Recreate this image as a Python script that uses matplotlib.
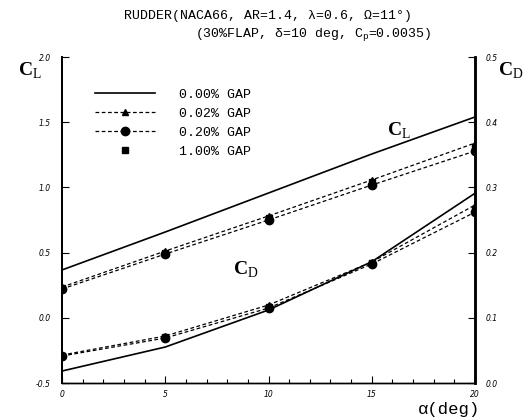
import matplotlib
matplotlib.use('Agg')
import matplotlib.pyplot as plt
from matplotlib.ticker import MultipleLocator

plt.rcParams['mathtext.fontset'] = 'custom'
plt.rcParams['mathtext.rm'] = 'Liberation Serif'
plt.rcParams['mathtext.bf'] = 'Liberation Serif:bold'

alpha = [0, 5, 10, 15, 20]

# lift coefficient
cl_gap000 = [0.367, 0.658, 0.957, 1.256, 1.54]
cl_gap002 = [0.236, 0.512, 0.781, 1.057, 1.34]
cl_gap020 = [0.221, 0.489, 0.750, 1.018, 1.279]
cl_gap100 = [0.23, 0.50, 0.765, 1.04, 1.31]

# drag coefficient
cd_gap000 = [0.0184, 0.0552, 0.112, 0.186, 0.291]
cd_gap002 = [0.0429, 0.0721, 0.1196, 0.1856, 0.273]
cd_gap020 = [0.0414, 0.069, 0.115, 0.1825, 0.262]
cd_gap100 = [0.042, 0.070, 0.117, 0.184, 0.267]

labels = ['0.00% GAP', '0.02% GAP', '0.20% GAP', '1.00% GAP']
cl_ticks = [-0.5, 0.0, 0.5, 1.0, 1.5, 2.0]
cd_ticks = [0.0, 0.1, 0.2, 0.3, 0.4, 0.5]

fig = plt.figure(figsize=(5.31, 4.17), dpi=100)
ax = fig.add_axes([0.1168, 0.0815, 0.7777, 0.7818])
ax2 = ax.twinx()

dash = (0, (3, 2))
ax.plot(alpha, cl_gap000, '-', color='black', lw=1.2, label=labels[0])
ax.plot(alpha, cl_gap002, linestyle=dash, color='black', lw=0.9,
        marker='^', ms=5, label=labels[1])
ax.plot(alpha, cl_gap020, linestyle=dash, color='black', lw=0.9,
        marker='o', ms=6, label=labels[2])
ax.plot(alpha, cl_gap100, linestyle='none', color='black',
        marker='s', ms=5, label=labels[3])

ax2.plot(alpha, cd_gap000, '-', color='black', lw=1.2)
ax2.plot(alpha, cd_gap002, linestyle=dash, color='black', lw=0.9, marker='^', ms=5)
ax2.plot(alpha, cd_gap020, linestyle=dash, color='black', lw=0.9, marker='o', ms=6)
ax2.plot(alpha, cd_gap100, linestyle='none', color='black', marker='s', ms=5)

ax.set_xlim(0, 20)
ax.set_ylim(-0.5, 2.0)
ax2.set_ylim(0.0, 0.5)
ax.set_xticks(alpha)
ax.xaxis.set_minor_locator(MultipleLocator(1))
ax.set_yticks(cl_ticks)
ax2.set_yticks(cd_ticks)

tick_font = dict(family='DejaVu Sans', style='italic', size=5.5)
ax.set_xticklabels([str(a) for a in alpha], **tick_font)
ax.set_yticklabels([f'{v:.1f}' for v in cl_ticks], **tick_font)
ax2.set_yticklabels([f'{v:.1f}' for v in cd_ticks], **tick_font)

for a in (ax, ax2):
    a.tick_params(direction='in', length=5, width=0.8, pad=8)
    a.tick_params(which='minor', direction='in', length=3, width=0.8)
    a.spines['top'].set_visible(False)
    a.spines['left'].set_linewidth(1.4)
    a.spines['right'].set_linewidth(1.8)
    a.spines['bottom'].set_linewidth(1.0)
ax.tick_params(axis='x', pad=5)

leg = ax.legend(loc='upper left', bbox_to_anchor=(0.05, 0.94), frameon=False,
                handlelength=4.6, handletextpad=1.8, labelspacing=0.52,
                prop={'family': 'Liberation Mono', 'size': 9.5})

fig.text(0.505, 0.962, 'RUDDER(NACA66, AR=1.4, \u03bb=0.6, \u03a9=11\u00b0)',
         ha='center', va='center', family='Liberation Mono', size=9.5)
fig.text(0.367, 0.918, '(30%FLAP, \u03b4=10 deg, C$_\\mathregular{p}$=0.0035)',
         ha='left', va='center', family='Liberation Mono', size=9.5)

fig.text(0.057, 0.83, r'$\mathbf{C}_\mathrm{L}$', ha='center', va='center', size=14)
fig.text(0.962, 0.83, r'$\mathbf{C}_\mathrm{D}$', ha='center', va='center', size=14)
ax.text(16.3, 1.43, r'$\mathbf{C}_\mathrm{L}$', ha='center', va='center', size=14)
ax.text(8.9, 0.37, r'$\mathbf{C}_\mathrm{D}$', ha='center', va='center', size=14)
fig.text(0.845, 0.018, '\u03b1(deg)', ha='center', va='center',
         family='Liberation Mono', size=12.5)

fig.savefig('out.png', dpi=100)
